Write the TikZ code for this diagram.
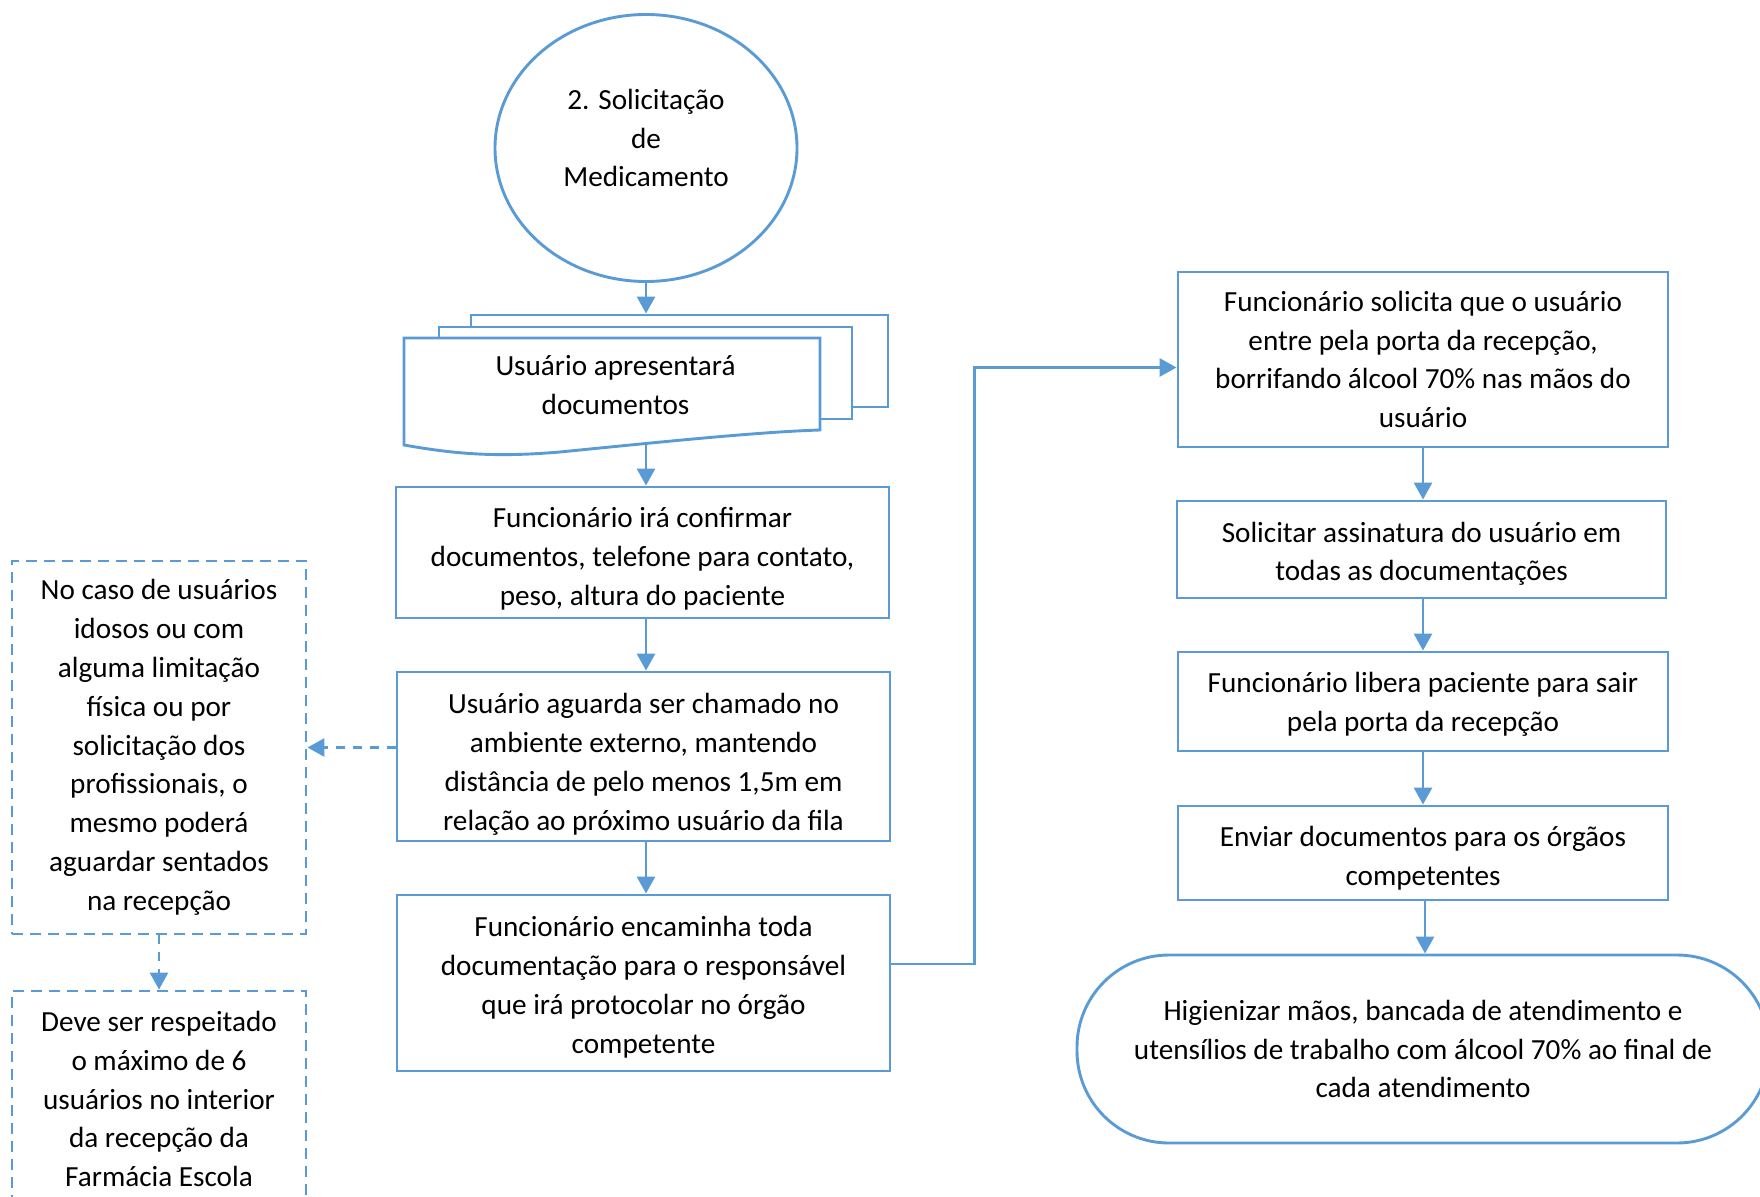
\documentclass[tikz,border=0pt]{standalone}
\usepackage{fontspec}
\setmainfont{Carlito}
\usetikzlibrary{shapes.geometric,arrows.meta}
\definecolor{azul}{HTML}{5B9BD5}
\newcommand{\baixo}[1]{\rule{0pt}{#1}}

\begin{document}
\begin{tikzpicture}[x=0.5pt,y=-0.5pt,
    every node/.style={font=\fontsize{14.6}{19.4}\selectfont, align=center},
    linha/.style={draw=azul, line width=1.45pt},
    caixa/.style={linha, fill=white, rectangle, inner sep=0pt, minimum width=246.5pt},
    nota/.style={linha, dash pattern=on 5.5pt off 3.5pt, rectangle, inner sep=0pt, minimum width=147pt},
    seta/.style={linha, -{Triangle[length=8.5pt,width=9pt]}},
    setatrac/.style={seta, dash pattern=on 4.5pt off 4pt}]
    \useasboundingbox (0,0) rectangle (1760,1197);

        \node[linha, ellipse, minimum width=151pt, minimum height=133.5pt, inner sep=0pt,
              label={[align=center, yshift=5pt]center:2. Solicitação\\de\\Medicamento}] (solic) at (646,148) {};

        \node[caixa, minimum width=208.5pt, minimum height=46pt] (docC) at (679.5,361) {};
        \node[caixa, minimum width=206.5pt, minimum height=46pt] (docB) at (645.5,373) {};
        \draw[linha, fill=white] (404,338) -- (820,338) -- (820,430)
            .. controls (760,432) and (680,440) .. (560,452)
            .. controls (500,457) and (460,455) .. (404,445) -- cycle;
        \node[inner sep=0pt] (docA) at (615.5,385) {Usuário apresentará\\documentos};
        \coordinate (docbot) at (646,443);

        \node[caixa, minimum height=65.5pt] (conf) at (642.5,552.5) {\baixo{16.6pt}Funcionário irá confirmar\\documentos, telefone para contato,\\peso, altura do paciente};
        \node[caixa, minimum height=84.5pt] (wait) at (643.5,756.5) {\baixo{18pt}Usuário aguarda ser chamado no\\ambiente externo, mantendo\\distância de pelo menos 1,5m em\\relação ao próximo usuário da fila};
        \node[caixa, minimum height=88pt] (enc) at (643.5,983) {\baixo{14.4pt}Funcionário encaminha toda\\documentação para o responsável\\que irá protocolar no órgão\\competente};

        \node[nota, minimum height=186.5pt] (idosos) at (159,747.5) {No caso de usuários\\idosos ou com\\alguma limitação\\física ou por\\solicitação dos\\profissionais, o\\mesmo poderá\\aguardar sentados\\na recepção};
        \node[nota, minimum height=108pt] (max6) at (159,1099) {Deve ser respeitado\\o máximo de 6\\usuários no interior\\da recepção da\\Farmácia Escola};

        \node[caixa, minimum width=245pt, minimum height=87.5pt] (porta) at (1423,359.5) {Funcionário solicita que o usuário\\entre pela porta da recepção,\\borrifando álcool 70\% nas mãos do\\usuário};
        \node[caixa, minimum width=244.5pt, minimum height=48.5pt] (assin) at (1421.5,549.5) {\baixo{14.4pt}Solicitar assinatura do usuário em\\todas as documentações};
        \node[caixa, minimum width=245pt, minimum height=49.5pt] (libera) at (1423,701.5) {\baixo{13.2pt}Funcionário libera paciente para sair\\pela porta da recepção};
        \node[caixa, minimum width=245pt, minimum height=47pt] (enviar) at (1423,853) {\baixo{15.4pt}Enviar documentos para os órgãos\\competentes};
        \node[linha, rectangle, rounded corners=46pt, inner sep=0pt, minimum width=346pt, minimum height=94pt] (fim) at (1423,1049) {Higienizar mãos, bancada de atendimento e\\utensílios de trabalho com álcool 70\% ao final de\\cada atendimento};

            \draw[seta] (solic.south) -- (solic.south |- docC.north);
            \draw[seta] (docbot) -- (docbot |- conf.north);
            \draw[seta] (docbot |- conf.south) -- (docbot |- wait.north);
            \draw[seta] (docbot |- wait.south) -- (docbot |- enc.north);
            \draw[seta] ([yshift=9.5pt]enc.east) -- ++(83,0) |- ([yshift=-4pt]porta.west);
            \draw[seta] (porta.south) -- (porta.south |- assin.north);
            \draw[seta] (porta.south |- assin.south) -- (porta.south |- libera.north);
            \draw[seta] (libera.south) -- (libera.south |- enviar.north);
            \draw[seta] ([xshift=1pt]enviar.south) -- ([xshift=1pt]enviar.south |- fim.north);
            \draw[setatrac] (idosos.east -| wait.west) -- (idosos.east);
            \draw[setatrac] (idosos.south) -- (max6.north);

    \end{tikzpicture}
\end{document}
